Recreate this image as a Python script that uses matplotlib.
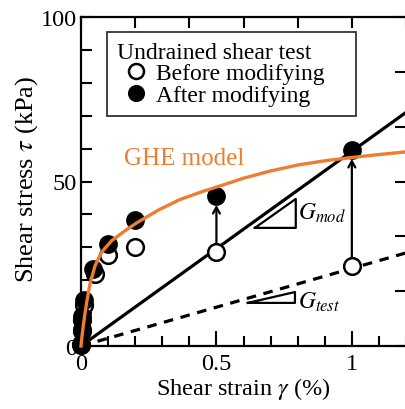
import matplotlib
matplotlib.use("Agg")
import matplotlib.pyplot as plt
from matplotlib.legend_handler import HandlerLine2D
from matplotlib.ticker import MultipleLocator, FixedLocator, NullFormatter

plt.rcParams['font.family'] = ['Liberation Serif', 'DejaVu Serif']
plt.rcParams['mathtext.fontset'] = 'stix'

# ---- data ----
before_gamma = [0.0, 0.002, 0.005, 0.01, 0.05, 0.1, 0.2, 0.5, 1.0]
before_tau = [0.3, 4.5, 8.0, 12.5, 21.9, 27.7, 30.1, 28.6, 24.3]
after_gamma = [0.0, 0.002, 0.005, 0.012, 0.045, 0.1, 0.2, 0.5, 1.0]
after_tau = [0.5, 5.2, 9.0, 14.0, 23.4, 31.0, 38.3, 45.6, 59.6]

ghe_gamma = [0, 0.004, 0.0085, 0.014, 0.021, 0.033, 0.052, 0.076, 0.113, 0.162,
             0.207, 0.29, 0.365, 0.45, 0.5, 0.6, 0.7, 0.8, 0.9, 1.0, 1.1, 1.2]
ghe_tau = [0, 3.2, 6.2, 9.5, 13.3, 18.8, 24.4, 28.5, 32.0, 35.0,
           37.5, 41.5, 44.5, 47.0, 48.3, 51.0, 53.2, 55.0, 56.3, 57.3, 58.2, 59.0]

line_gamma = [0.0, 1.2]
gmod_tau = [0.0, 71.0]
gtest_tau = [0.0, 28.3]

gmod_tri_x = [0.642, 0.793, 0.793, 0.642]
gmod_tri_y = [35.9, 44.7, 35.9, 35.9]
gtest_tri_x = [0.616, 0.790, 0.790, 0.616]
gtest_tri_y = [13.1, 16.4, 13.1, 13.1]

arrow_idx = [7, 8]  # indices of points joined by arrows

x_ticklabels = ['0', '0.5', '1']
y_ticklabels = ['0', '50', '100']

orange = '#ED7D31'

fig = plt.figure(figsize=(4.05, 4.10), dpi=100)
ax = fig.add_axes([81 / 405, 63 / 410, 325 / 405, 329 / 410])

ax.plot(line_gamma, gmod_tau, color='black', lw=2.3, zorder=2)
ax.plot(line_gamma, gtest_tau, color='black', lw=2.3, ls=(0, (3.0, 2.4)), zorder=2)

ax.plot(after_gamma, after_tau, 'o', ms=12, mfc='black', mec='black', mew=1.5,
        clip_on=False, zorder=4, label='After modifying')
ax.plot(before_gamma, before_tau, 'o', ms=12, mfc='white', mec='black', mew=1.8,
        clip_on=False, zorder=3, label='Before modifying')
ax.plot(ghe_gamma, ghe_tau, color=orange, lw=2.4, zorder=5, clip_on=False)

for i in arrow_idx:
    ax.annotate('', xy=(after_gamma[i], after_tau[i]), xytext=(before_gamma[i], before_tau[i]),
                arrowprops=dict(arrowstyle='->,head_length=0.45,head_width=0.25', lw=1.6,
                                color='black', shrinkA=6.5, shrinkB=6.5), zorder=3)

ax.plot(gmod_tri_x, gmod_tri_y, color='black', lw=1.6, zorder=2)
ax.plot(gtest_tri_x, gtest_tri_y, color='black', lw=1.6, zorder=2)
ax.text(0.80, 40.7, r'$G_{mod}$', fontsize=17, va='center', ha='left')
ax.text(0.80, 13.6, r'$G_{test}$', fontsize=17, va='center', ha='left')
ax.text(0.16, 57.0, 'GHE model', color=orange, fontsize=18, va='center', ha='left')

ax.set_xlim(0, 1.2)
ax.set_ylim(0, 100)
ax.xaxis.set_major_locator(FixedLocator([0, 0.5, 1.0]))
ax.set_xticklabels(x_ticklabels)
ax.xaxis.set_minor_locator(MultipleLocator(0.1))
ax.yaxis.set_major_locator(FixedLocator([0, 50, 100]))
ax.set_yticklabels(y_ticklabels)
ax.yaxis.set_minor_locator(MultipleLocator(10))
ax.tick_params(which='both', direction='in', labelsize=17.5, width=1.5, top=False, right=False)
ax.tick_params(axis='x', which='major', length=11, pad=5)
ax.tick_params(axis='x', which='minor', length=7)
ax.tick_params(axis='y', which='major', length=8, pad=3)
ax.tick_params(axis='y', which='minor', length=8)
for s in ax.spines.values():
    s.set_linewidth(1.6)
ax.spines['right'].set_visible(False)

# top and right tick rows
axt = ax.twiny()
axt.set_xlim(0, 1.2)
axt.xaxis.set_major_locator(MultipleLocator(0.2))
axt.xaxis.set_major_formatter(NullFormatter())
axt.tick_params(direction='in', length=8, width=1.5)
axr = ax.twinx()
axr.set_ylim(0, 6)
axr.yaxis.set_major_locator(MultipleLocator(1))
axr.yaxis.set_major_formatter(NullFormatter())
axr.tick_params(direction='in', length=8, width=1.5)
for a in (axt, axr):
    for s in a.spines.values():
        s.set_visible(False)

ax.set_xlabel(r'Shear strain $\gamma$ (%)', fontsize=17.5, labelpad=1)
ax.set_ylabel(r'Shear stress $\tau$ (kPa)', fontsize=19)
ax.yaxis.set_label_coords(-0.125, 0.51)

h, l = ax.get_legend_handles_labels()
leg = ax.legend([h[1], h[0]], [l[1], l[0]], title='Undrained shear test', loc='upper left',
                bbox_to_anchor=(0.08, 0.5, 0.766, 0.455), mode='expand', borderaxespad=0,
                fontsize=17, title_fontsize=17,
                alignment='left', frameon=True, fancybox=False, edgecolor='black',
                handlelength=1.45, handletextpad=0.2, borderpad=0.42, labelspacing=0.0,
                markerscale=0.9,
                handler_map={h[0]: HandlerLine2D(xpad=0.2), h[1]: HandlerLine2D(xpad=0.2)})
leg.get_frame().set_linewidth(1.3)
leg.set_zorder(10)

fig.savefig('out.png', dpi=100)
